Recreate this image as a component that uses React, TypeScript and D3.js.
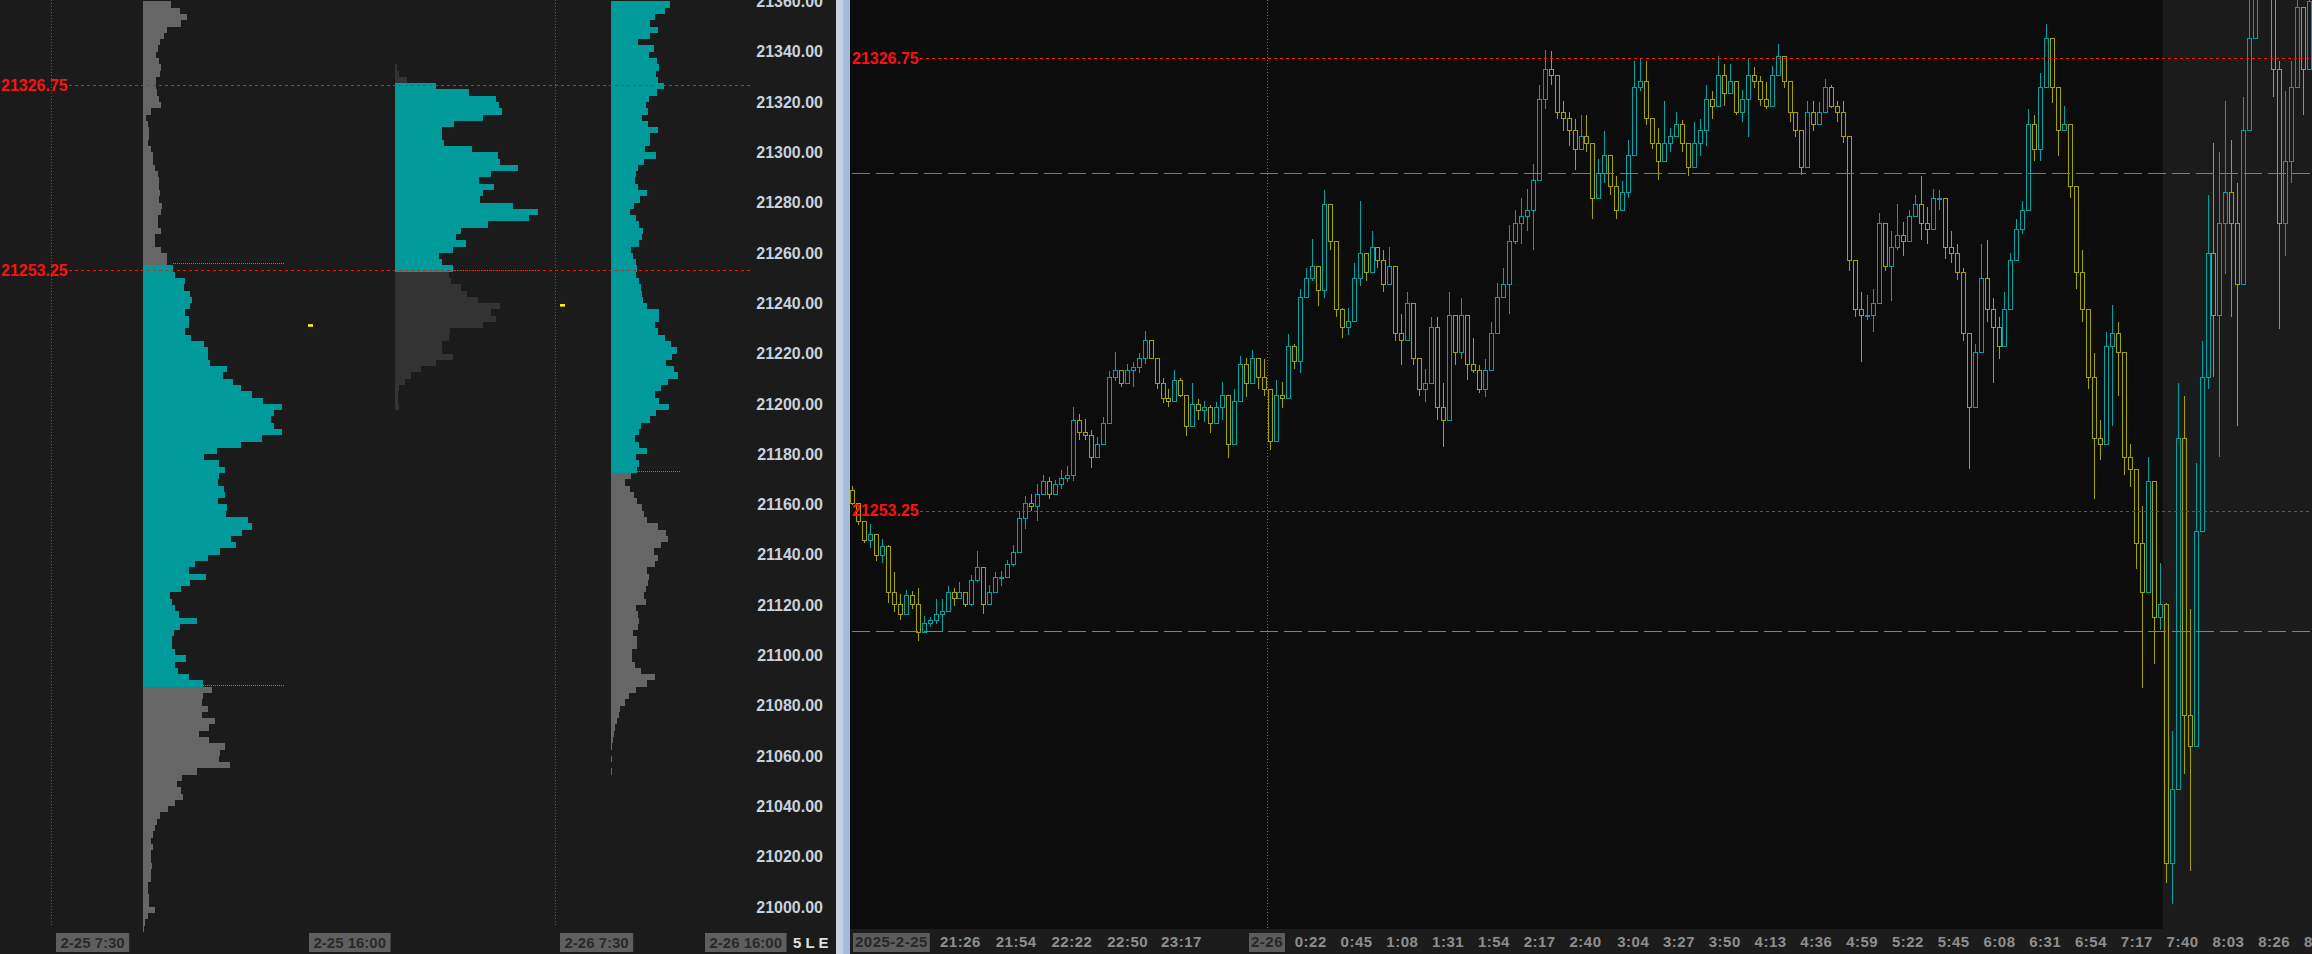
import * as d3 from "d3";

const W = 2312;
const H = 954;

// ---------- left panel : session volume profiles ----------
const priceTicks = [
  21000, 21020, 21040, 21060, 21080, 21100, 21120, 21140, 21160, 21180,
  21200, 21220, 21240, 21260, 21280, 21300, 21320, 21340, 21360,
];
const ROW = 2.5; // price rows of the profiles
const refLevels = [21326.75, 21253.25];

const profileTop = [21360, 21335, 21360];
const vaHigh = [21255, 21327.5, 21362.5];
const vaLow = [21087.5, 21252.5, 21172.5];

const profile1 = [
  28, 37, 44, 38, 24, 21, 17, 15, 13, 16,
  18, 17, 13, 13, 14, 16, 18, 8, 3, 5,
  6, 6, 5, 8, 10, 10, 12, 15, 16, 16,
  17, 16, 19, 18, 15, 15, 18, 12, 12, 18,
  24, 24, 30, 32, 42, 41, 47, 49, 47, 42,
  46, 46, 42, 48, 61, 65, 65, 67, 84, 80,
  90, 98, 109, 120, 139, 131, 128, 131, 139, 119,
  98, 74, 61, 76, 82, 76, 75, 81, 82, 75,
  84, 83, 105, 109, 99, 88, 93, 77, 65, 52,
  46, 63, 47, 38, 27, 29, 32, 36, 54, 37,
  31, 29, 29, 32, 43, 32, 35, 46, 60, 69,
  60, 59, 65, 59, 72, 66, 56, 66, 82, 77,
  76, 87, 54, 39, 34, 38, 40, 32, 25, 17,
  14, 12, 10, 8, 10, 8, 8, 9, 8, 8,
  5, 5, 6, 6, 12, 5, 2, 1,
];
const profile2 = [
  2, 4, 12, 41, 74, 101, 104, 107, 88, 59,
  47, 47, 49, 77, 103, 105, 123, 96, 84, 99,
  88, 85, 118, 143, 134, 93, 66, 61, 71, 58,
  44, 47, 58, 54, 56, 66, 72, 83, 105, 96,
  101, 88, 55, 54, 47, 47, 58, 41, 26, 16,
  10, 4, 3, 3, 4,
];
const profile3 = [
  59, 54, 44, 39, 47, 39, 27, 43, 38, 46,
  48, 45, 47, 53, 46, 38, 35, 37, 31, 37,
  47, 39, 39, 34, 45, 33, 27, 25, 24, 27,
  36, 29, 23, 19, 25, 28, 32, 31, 28, 20,
  22, 25, 26, 25, 28, 30, 31, 32, 36, 48,
  48, 44, 47, 54, 60, 66, 61, 55, 63, 67,
  57, 50, 44, 48, 58, 45, 39, 30, 28, 24,
  28, 36, 25, 28, 26, 20, 14, 19, 23, 26,
  31, 33, 36, 47, 55, 57, 50, 43, 47, 44,
  36, 38, 37, 35, 33, 35, 25, 27, 28, 27,
  22, 26, 26, 21, 21, 24, 30, 44, 36, 25,
  18, 14, 9, 8, 6, 4, 3, 2, 1, 0,
  1, 0, 1,
];
const sessionLabels = ["2-25 7:30", "2-25 16:00", "2-26 7:30", "2-26 16:00"];
const settleMarks = [21231.25, 21239.25];

// ---------- right panel : 3 minute candles, overnight 2-25 / 2-26 ----------
const barStart = -210; // minutes relative to 2-26 0:00 (20:30)
const barMinutes = 3;
const firstOpen = 21256.5;
const highs = [
  21257.2, 21253.6, 21251.3, 21251.1, 21249.2, 21248.6, 21247.6, 21243.2, 21239.7, 21240.4,
  21240.2, 21240.7, 21236.1, 21236.0, 21238.8, 21238.8, 21241.0, 21240.7, 21241.7, 21239.5,
  21242.7, 21246.7, 21241.7, 21241.2, 21243.2, 21243.4, 21245.2, 21247.6, 21253.1, 21255.6,
  21255.9, 21257.5, 21259.0, 21258.7, 21258.2, 21259.8, 21260.5, 21270.1, 21268.9, 21268.1,
  21266.4, 21265.2, 21268.4, 21275.9, 21279.0, 21276.0, 21277.0, 21277.3, 21278.8, 21282.4,
  21280.8, 21278.0, 21274.8, 21273.0, 21276.0, 21274.8, 21271.9, 21273.9, 21271.4, 21271.1,
  21270.4, 21270.9, 21274.1, 21270.9, 21272.9, 21278.3, 21278.0, 21279.3, 21278.0, 21277.8,
  21272.9, 21274.4, 21274.1, 21281.9, 21280.3, 21289.2, 21292.6, 21297.4, 21291.2, 21305.3,
  21303.0, 21295.6, 21286.2, 21286.2, 21293.4, 21303.5, 21295.1, 21298.6, 21296.1, 21295.6,
  21296.1, 21289.7, 21285.2, 21288.7, 21286.7, 21277.8, 21276.3, 21284.7, 21284.7, 21273.9,
  21288.7, 21282.8, 21287.7, 21280.3, 21281.3, 21276.8, 21277.8, 21283.8, 21290.2, 21292.6,
  21299.6, 21302.0, 21304.0, 21305.5, 21309.5, 21322.3, 21328.1, 21327.8, 21323.3, 21319.8,
  21317.9, 21316.9, 21317.4, 21317.4, 21311.4, 21310.4, 21314.9, 21311.0, 21307.5, 21306.7,
  21313.4, 21326.3, 21326.6, 21326.3, 21315.4, 21315.4, 21319.8, 21315.4, 21317.9, 21316.6,
  21312.9, 21316.4, 21316.9, 21322.3, 21321.3, 21327.0, 21325.8, 21325.8, 21322.3, 21321.5,
  21326.5, 21325.3, 21323.8, 21322.8, 21325.5, 21329.0, 21326.8, 21321.3, 21316.9, 21312.0,
  21319.8, 21319.8, 21319.6, 21323.3, 21322.3, 21319.8, 21319.8, 21313.4, 21292.6, 21288.7,
  21288.2, 21289.2, 21301.6, 21298.1, 21298.6, 21303.0, 21300.1, 21302.0, 21304.5, 21307.5,
  21302.5, 21305.5, 21305.3, 21299.6, 21298.6, 21296.6, 21292.6, 21279.8, 21280.3, 21296.6,
  21297.1, 21287.7, 21284.7, 21288.7, 21295.1, 21300.6, 21303.5, 21318.4, 21317.4, 21324.3,
  21332.2, 21329.2, 21321.3, 21318.9, 21309.5, 21305.5, 21295.6, 21278.8, 21278.8, 21267.9,
  21282.3, 21286.7, 21283.8, 21276.8, 21264.0, 21257.0, 21254.0, 21262.0, 21249.1, 21244.7,
  21238.2, 21217.4, 21273.9, 21271.9, 21237.2, 21261.0, 21280.8, 21304.5, 21312.9, 21311.4,
  21319.8, 21313.4, 21306.5, 21320.4, 21338.0, 21341.0, 21345.0, 21348.0, 21340.0, 21326.3,
  21321.3, 21326.3, 21338.1, 21332.2, 21339.0,
];
const lows = [
  21254.1, 21250.9, 21248.0, 21247.1, 21245.0, 21244.7, 21238.3, 21236.8, 21235.5, 21237.4,
  21237.2, 21232.1, 21233.8, 21234.3, 21234.8, 21233.5, 21238.1, 21237.8, 21239.0, 21237.6,
  21237.8, 21241.7, 21236.5, 21238.5, 21240.4, 21241.0, 21242.7, 21244.0, 21248.6, 21250.3,
  21253.1, 21251.6, 21256.2, 21255.1, 21257.1, 21256.8, 21257.9, 21258.0, 21264.7, 21264.7,
  21260.2, 21262.2, 21264.7, 21268.0, 21274.3, 21273.3, 21273.8, 21273.3, 21275.6, 21277.0,
  21277.8, 21272.9, 21270.7, 21270.1, 21271.1, 21271.7, 21265.4, 21267.9, 21267.9, 21267.7,
  21265.8, 21267.9, 21267.9, 21261.8, 21265.0, 21273.9, 21271.7, 21275.9, 21272.9, 21271.9,
  21263.0, 21266.9, 21269.9, 21276.3, 21276.3, 21275.6, 21288.5, 21290.5, 21286.5, 21287.7,
  21295.6, 21284.7, 21281.3, 21281.8, 21289.5, 21289.7, 21290.5, 21292.2, 21292.6, 21288.7,
  21292.2, 21280.8, 21276.8, 21283.8, 21276.8, 21271.9, 21270.9, 21273.9, 21267.9, 21263.5,
  21272.9, 21276.8, 21277.8, 21274.4, 21275.6, 21272.4, 21271.7, 21276.8, 21285.2, 21288.5,
  21285.2, 21296.6, 21296.6, 21298.6, 21295.6, 21307.5, 21318.4, 21322.3, 21316.9, 21314.9,
  21312.4, 21308.5, 21311.9, 21311.4, 21300.6, 21306.0, 21306.5, 21304.5, 21300.6, 21302.5,
  21304.0, 21313.4, 21321.3, 21315.9, 21311.9, 21307.0, 21310.2, 21311.4, 21314.2, 21311.4,
  21307.5, 21310.2, 21310.9, 21312.4, 21316.9, 21320.4, 21318.9, 21321.3, 21317.4, 21316.4,
  21313.9, 21321.8, 21318.9, 21318.4, 21322.1, 21324.3, 21321.8, 21316.4, 21313.9, 21307.7,
  21312.4, 21314.9, 21316.6, 21319.4, 21318.6, 21316.4, 21312.9, 21292.2, 21284.7, 21277.3,
  21284.2, 21282.3, 21289.7, 21292.2, 21287.2, 21295.6, 21294.6, 21298.6, 21301.5, 21297.1,
  21296.6, 21300.6, 21302.0, 21294.1, 21293.4, 21290.7, 21280.8, 21260.0, 21275.8, 21282.3,
  21283.8, 21273.9, 21277.8, 21281.3, 21290.7, 21295.6, 21298.1, 21310.4, 21310.0, 21310.0,
  21323.3, 21319.4, 21310.9, 21314.9, 21304.0, 21289.2, 21283.8, 21272.9, 21255.1, 21261.5,
  21268.9, 21266.9, 21271.9, 21259.0, 21257.0, 21243.7, 21224.4, 21249.1, 21228.3, 21233.8,
  21192.7, 21189.3, 21214.5, 21210.5, 21194.7, 21222.4, 21257.0, 21272.9, 21274.9, 21262.0,
  21291.7, 21284.7, 21266.9, 21298.6, 21316.4, 21330.2, 21337.0, 21338.0, 21320.4, 21282.7,
  21294.6, 21306.5, 21323.3, 21317.4, 21328.3,
];
const closes = [
  21254.5, 21251.5, 21248.5, 21249.5, 21246, 21247.5, 21240, 21238, 21236.5, 21239.5,
  21238, 21233.5, 21235, 21235.5, 21236.5, 21237, 21240, 21239, 21240, 21238,
  21242, 21244, 21238, 21240, 21242.5, 21242.5, 21244.5, 21246.5, 21252, 21254.5,
  21254, 21256, 21258, 21256, 21257.5, 21258.5, 21259, 21268, 21266, 21265.5,
  21262, 21264, 21267.5, 21275, 21276, 21274, 21276, 21276.5, 21278, 21281,
  21278, 21274, 21271.5, 21271, 21274.5, 21272, 21267, 21270.5, 21269.5, 21270,
  21267.5, 21270, 21272, 21264, 21271, 21277, 21274, 21278, 21275, 21273,
  21264.5, 21272, 21271.5, 21280, 21277.5, 21288, 21291, 21293, 21289, 21303,
  21297, 21286, 21283, 21284, 21291, 21295, 21292, 21296, 21294, 21290,
  21293, 21282, 21281, 21287, 21278, 21273, 21274, 21283, 21270, 21268,
  21285, 21279, 21285, 21277, 21276, 21273, 21276, 21282, 21288, 21290,
  21297, 21300, 21301, 21302, 21307, 21320, 21325, 21324, 21318, 21317,
  21315, 21312, 21314, 21313, 21304, 21308, 21311, 21306, 21302, 21305,
  21311, 21322, 21323, 21317, 21313, 21310, 21313, 21314, 21316, 21313,
  21309, 21313, 21315, 21320, 21319, 21324, 21321, 21323, 21318, 21320,
  21324, 21323, 21320, 21319, 21324, 21327, 21323, 21318, 21315, 21309,
  21318, 21316, 21318, 21322, 21319, 21318, 21314, 21294, 21286, 21285,
  21285, 21287, 21300, 21293, 21296, 21298, 21297, 21301, 21303, 21300,
  21299, 21304, 21304, 21296, 21295, 21292, 21282, 21270, 21279, 21291,
  21286, 21283, 21280, 21286, 21294, 21299, 21302, 21316, 21312, 21322,
  21330, 21322, 21315, 21316, 21306, 21292, 21286, 21275, 21265, 21264,
  21280, 21282, 21279, 21262, 21260, 21248, 21240, 21258, 21236, 21238,
  21196, 21208, 21265, 21220, 21215, 21250, 21275, 21295, 21285, 21300,
  21305, 21300, 21290, 21315, 21330, 21338, 21342, 21340, 21325, 21300,
  21310, 21322, 21335, 21325, 21336,
];
const timeTicks = [
  "21:26", "21:54", "22:22", "22:50", "23:17", "0:22", "0:45", "1:08", "1:31",
  "1:54", "2:17", "2:40", "3:04", "3:27", "3:50", "4:13", "4:36", "4:59", "5:22",
  "5:45", "6:08", "6:31", "6:54", "7:17", "7:40", "8:03", "8:26", "8:49",
];
const rthStart = "7:30";
const levelGreen = 21308;
const levelSalmon = 21233.75;

// ---------- layout ----------
const FONT = "'Liberation Sans', Arial, sans-serif";
const LEFT_W = 836;
const RIGHT_X = 850;
const PLOT_B = 929;
const profileX = [143, 395, 611];
const vaLineEnd = [284, 536, 680];
const sessionX = [56, 309, 560, 705];
const settleX = [308, 560];

const yL = d3.scaleLinear().domain([21340, 21000]).range([51.7, 906.8]);
const vol = d3.scaleLinear().domain([0, 150]).range([0, 150]);
const yR = d3.scaleLinear().domain([21326.75, 21253.25]).range([57.9, 510.5]);
const xR = d3.scaleLinear().domain([-209.5, 525]).range([RIGHT_X, W]);

const toMinutes = (s: string) => {
  const [h, m] = s.split(":").map(Number);
  return (h >= 12 ? h - 24 : h) * 60 + m;
};
const textW = (s: string, size: number) =>
  d3.sum(s.split(""), (ch) => (/[0-9]/.test(ch) ? 0.556 : ch === " " ? 0.278 : 0.333)) * size;

const CYAN = "#009a9a";
const TEAL = "#00a3a3";
const OLIVE = "#a3a300";

function Profile({ idx, values }: { idx: number; values: number[] }) {
  const top = profileTop[idx];
  const outColor = idx === 1 ? "#333333" : "#666666";
  return (
    <g shapeRendering="crispEdges">
      {values.map((v, i) => {
        const pTop = top - ROW * i;
        const pBot = pTop - ROW;
        const inVa = pTop <= vaHigh[idx] && pBot >= vaLow[idx];
        return (
          <rect
            key={i}
            x={profileX[idx]}
            y={yL(pTop)}
            width={vol(v)}
            height={yL(pBot) - yL(pTop)}
            fill={inVa ? CYAN : outColor}
          />
        );
      })}
    </g>
  );
}

function vaMark(idx: number, values: number[], price: number, below: boolean) {
  const i = Math.round((profileTop[idx] - price) / ROW) - (below ? 1 : 0);
  const x1 = profileX[idx] + vol(values[Math.max(0, i)] ?? 0);
  const y = Math.round(yL(price)) - 1.5;
  return (
    <line
      key={`va${idx}${price}`}
      x1={x1}
      x2={vaLineEnd[idx]}
      y1={y}
      y2={y}
      stroke="#00b0b0"
      strokeWidth={1}
      strokeDasharray="1,1"
    />
  );
}

function LeftPanel() {
  return (
    <g>
      <rect x={0} y={0} width={LEFT_W} height={H} fill="#1b1b1b" />
      {[51.5, 555.5].map((x) => (
        <line key={x} x1={x} x2={x} y1={0} y2={927} stroke="#5a5a5a" strokeDasharray="1,2" />
      ))}
      <Profile idx={0} values={profile1} />
      <Profile idx={1} values={profile2} />
      <Profile idx={2} values={profile3} />
      {vaMark(0, profile1, vaHigh[0], false)}
      {vaMark(0, profile1, vaLow[0], true)}
      {vaMark(1, profile2, vaLow[1], true)}
      {vaMark(2, profile3, vaLow[2], true)}
      {settleMarks.map((p, i) => (
        <rect key={i} x={settleX[i]} y={yL(p) - 1} width={5} height={2.5} fill="#ffff00" />
      ))}
      {refLevels.map((p) => (
        <g key={p}>
          <line
            x1={69}
            x2={752}
            y1={Math.round(yL(p)) + 0.5}
            y2={Math.round(yL(p)) + 0.5}
            stroke="#ff1010"
            strokeDasharray="3,3"
          />
          <text x={1} y={yL(p)} dy="0.36em" fill="#ff1010" fontSize={16} fontWeight="bold" fontFamily={FONT}>
            {p.toFixed(2)}
          </text>
        </g>
      ))}
      {priceTicks.map((p) => (
        <text
          key={p}
          x={823}
          y={yL(p)}
          dy="0.36em"
          textAnchor="end"
          fill="#c8d2dc"
          fontSize={16}
          fontWeight="bold"
          fontFamily={FONT}
        >
          {p.toFixed(2)}
        </text>
      ))}
      {sessionLabels.map((s, i) => {
        const w = textW(s, 15) + 9;
        return (
          <g key={s}>
            <rect x={sessionX[i]} y={933} width={w} height={19} fill="#5f5f5f" />
            <text
              x={sessionX[i] + 4.5}
              y={942.5}
              dy="0.36em"
              fill="#2a2a2a"
              fontSize={15}
              fontWeight="bold"
              fontFamily={FONT}
              style={{ whiteSpace: "pre" }}
            >
              {s}
            </text>
          </g>
        );
      })}
      <text x={793} y={942.5} dy="0.36em" fill="#e0e0e0" fontSize={15} fontWeight="bold" fontFamily={FONT}>
        5 L E
      </text>
    </g>
  );
}

function RightPanel() {
  const bars = closes.map((c, i) => {
    const o = i === 0 ? firstOpen : closes[i - 1];
    return {
      t: barStart + i * barMinutes + barMinutes / 2,
      o,
      c,
      h: Math.max(highs[i], o, c),
      l: Math.min(lows[i], o, c),
    };
  });
  const xRth = xR(toMinutes(rthStart));
  const xMid = Math.round(xR(0)) + 0.5;
  return (
    <g>
      <defs>
        <clipPath id="plotClip">
          <rect x={RIGHT_X} y={0} width={W - RIGHT_X} height={PLOT_B} />
        </clipPath>
      </defs>
      <rect x={RIGHT_X} y={0} width={W - RIGHT_X} height={H} fill="#0c0c0c" />
      <rect x={xRth} y={0} width={W - xRth} height={PLOT_B} fill="#1b1b1b" />
      <line x1={xMid} x2={xMid} y1={0} y2={PLOT_B} stroke="#6a6a6a" strokeDasharray="1,2" />
      <g clipPath="url(#plotClip)" shapeRendering="crispEdges">
        {bars.map((b, i) => {
          const cx = Math.round(xR(b.t));
          const color = b.c >= b.o ? TEAL : OLIVE;
          const yTop = Math.round(yR(Math.max(b.o, b.c)));
          const yBot = Math.max(Math.round(yR(Math.min(b.o, b.c))), yTop + 1);
          return (
            <g key={i} stroke={color} fill="none">
              <line x1={cx + 0.5} x2={cx + 0.5} y1={yR(b.h)} y2={yTop} />
              <line x1={cx + 0.5} x2={cx + 0.5} y1={yBot} y2={yR(b.l)} />
              <rect x={cx - 1.5} y={yTop + 0.5} width={4} height={yBot - yTop} />
            </g>
          );
        })}
      </g>
      {[
        { p: levelGreen, c: "#22b04a" },
        { p: levelSalmon, c: "#e0584e" },
      ].map(({ p, c }) => (
        <line
          key={p}
          x1={RIGHT_X + 2}
          x2={W}
          y1={Math.round(yR(p)) + 0.5}
          y2={Math.round(yR(p)) + 0.5}
          stroke={c}
          strokeDasharray="18,6"
        />
      ))}
      {refLevels.map((p) => (
        <g key={p}>
          <line
            x1={920}
            x2={W}
            y1={Math.round(yR(p)) + 0.5}
            y2={Math.round(yR(p)) + 0.5}
            stroke="#ff1010"
            strokeDasharray="3,3"
          />
          <text x={852} y={yR(p)} dy="0.36em" fill="#ff1010" fontSize={16} fontWeight="bold" fontFamily={FONT}>
            {p.toFixed(2)}
          </text>
        </g>
      ))}
      <rect x={RIGHT_X} y={PLOT_B} width={W - RIGHT_X} height={H - PLOT_B} fill="#1c1c1c" />
      {timeTicks.map((s) => (
        <text
          key={s}
          x={xR(toMinutes(s))}
          y={942}
          dy="0.36em"
          textAnchor="middle"
          fill="#8e8e8e"
          fontSize={15}
          fontWeight="bold"
          fontFamily={FONT}
          letterSpacing={0.5}
        >
          {s}
        </text>
      ))}
      {[
        { s: "2025-2-25", x: 853 },
        { s: "2-26", x: xR(0) - (textW("2-26", 15) + 6) / 2 },
      ].map(({ s, x }) => {
        const w = textW(s, 15) + s.length * 0.5 + 4;
        return (
          <g key={s}>
            <rect x={x} y={933} width={w} height={19} fill="#5c5c5c" />
            <text
              x={x + 2}
              y={942}
              dy="0.36em"
              fill="#282828"
              fontSize={15}
              fontWeight="bold"
              fontFamily={FONT}
              letterSpacing={0.5}
            >
              {s}
            </text>
          </g>
        );
      })}
    </g>
  );
}

export default function App() {
  return (
    <div style={{ position: "fixed", left: 0, top: 0, width: W, height: H, overflow: "hidden" }}>
      <svg width={W} height={H} viewBox={`0 0 ${W} ${H}`} style={{ display: "block", background: "#0c0c0c" }}>
        <LeftPanel />
        <rect x={LEFT_W} y={0} width={7} height={H} fill="#c3d1e0" />
        <rect x={LEFT_W + 7} y={0} width={RIGHT_X - LEFT_W - 7} height={H} fill="#a3bbd8" />
        <RightPanel />
      </svg>
    </div>
  );
}
